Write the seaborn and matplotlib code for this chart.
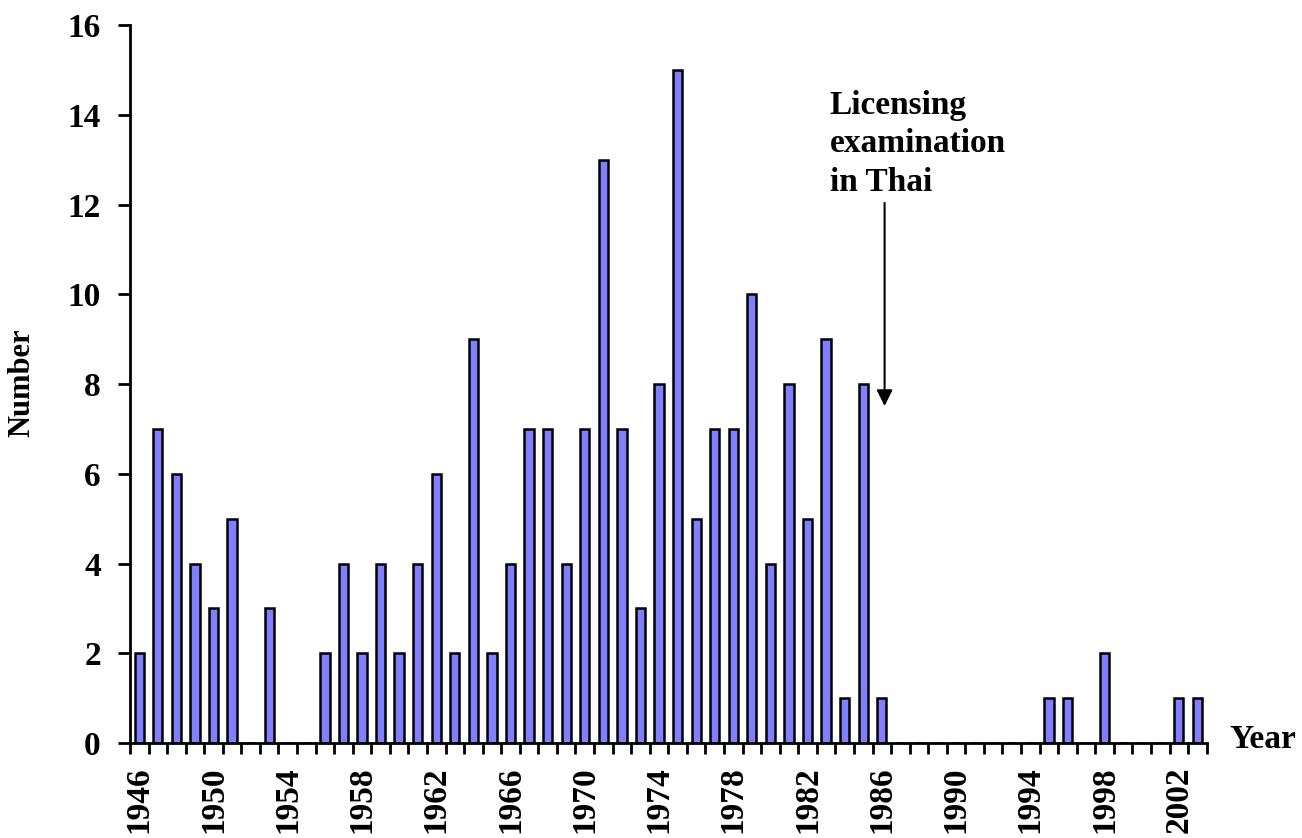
import matplotlib
matplotlib.use("Agg")
import matplotlib.pyplot as plt
import seaborn as sns
import pandas as pd
import numpy as np

# counts per year
years = list(range(1946, 2004))
counts = [2, 7, 6, 4, 3, 5, 0, 3, 0, 0,
          2, 4, 2, 4, 2, 4, 6, 2, 9, 2,
          4, 7, 7, 4, 7, 13, 7, 3, 8, 15,
          5, 7, 7, 10, 4, 8, 5, 9, 1, 8,
          1, 0, 0, 0, 0, 0, 0, 0, 0, 1,
          1, 0, 2, 0, 0, 0, 1, 1]
label_years = list(range(1946, 2004, 4))
yticks = list(range(0, 17, 2))

df = pd.DataFrame({"Year": [str(y) for y in years], "Number": counts})

sns.set_style("ticks")
plt.rcParams['font.family'] = ['Liberation Serif', 'DejaVu Serif']
plt.rcParams['font.weight'] = 'bold'
plt.rcParams['text.color'] = 'black'
plt.rcParams['xtick.color'] = 'black'
plt.rcParams['ytick.color'] = 'black'

fig = plt.figure(figsize=(13.02, 8.38), dpi=100)
ax = fig.add_axes([0.0998, 0.1134, 0.827, 0.8566])

sns.barplot(data=df, x="Year", y="Number", color="#8080FF", saturation=1,
            edgecolor="black", linewidth=1.8, width=0.5, ax=ax)

ax.set_xlim(-0.5, len(years) - 0.5)
ax.set_ylim(0, 16)
ax.set_yticks(yticks)
ax.set_yticklabels([str(v) for v in yticks], fontsize=24, fontweight='bold')

# ticks at category boundaries, labels every 4 years
ax.set_xticks(np.arange(-0.5, len(years), 1.0))
ax.set_xticklabels([])
ax.set_xticks([years.index(y) for y in label_years], minor=True)
ax.set_xticklabels([str(y) for y in label_years], minor=True, rotation=90,
                   fontsize=24, fontweight='bold')
ax.tick_params(axis='x', which='major', direction='out', length=8, width=2, color='black')
ax.tick_params(axis='x', which='minor', length=0, pad=17)
ax.tick_params(axis='y', direction='out', length=9, width=2, color='black', pad=12)

for s in ['top', 'right']:
    ax.spines[s].set_visible(False)
for s in ['left', 'bottom']:
    ax.spines[s].set_linewidth(2)
    ax.spines[s].set_color('black')

ax.set_xlabel("")
ax.set_ylabel("")
fig.text(22 / 1302, 1 - 383 / 838, "Number", rotation=90, fontsize=22,
         fontweight='bold', ha='center', va='center')
ax.text(1.021, 0.005, "Year", transform=ax.transAxes, fontsize=24,
        fontweight='bold', ha='left', va='center')

ax.text(37.2, 14.55, "Licensing\nexamination\nin Thai", fontsize=24,
        fontweight='bold', ha='left', va='top', linespacing=1.3)
ax.annotate("", xy=(40.15, 7.45), xytext=(40.15, 12.1),
            arrowprops=dict(arrowstyle='-|>', color='black', lw=1.5,
                            mutation_scale=24))

fig.savefig("out.png", dpi=100)
